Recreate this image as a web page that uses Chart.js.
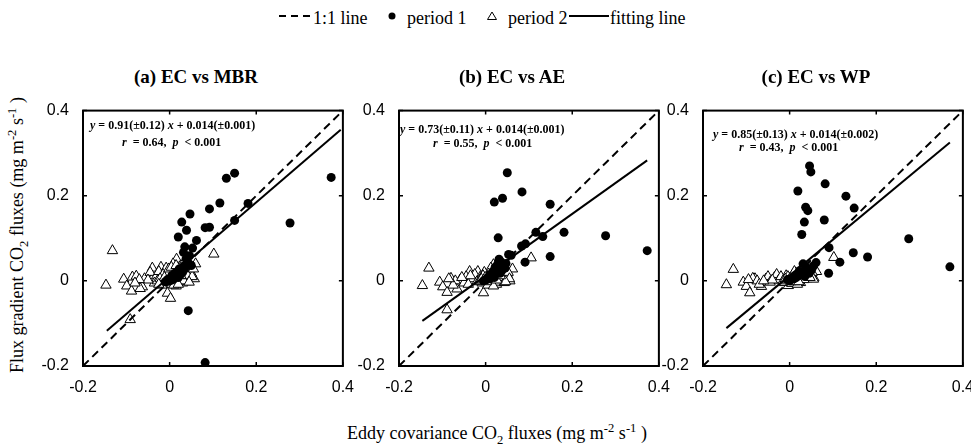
<!DOCTYPE html>
<html><head><meta charset="utf-8">
<script src="https://cdn.jsdelivr.net/npm/chart.js@4.4.1/dist/chart.umd.min.js"></script>
<style>
html,body{margin:0;padding:0;width:971px;height:447px;overflow:hidden;background:#fff;}
canvas{position:absolute;}
.t{position:absolute;font-family:"Liberation Serif","Times New Roman",serif;color:#000;white-space:nowrap;line-height:1;}
.c{transform:translate(-50%,-50%);}
.ttl{font-weight:bold;font-size:19px;}
.ann{font-weight:bold;font-size:12px;transform:translateY(-50%);}
.lab{font-size:18px;}
sub,sup{font-size:70%;line-height:0;}
</style></head><body>

<script>
// ---------- data ----------
const tickValues = [-0.2, 0, 0.2, 0.4];
const tickLabels = ['-0.2', '0', '0.2', '0.4'];
const oneToOneX = [-0.2, 0.4];
const oneToOneY = [-0.2, 0.4];

// (a) EC vs MBR
const mbrP1X = [0.373,0.150,0.131,0.116,0.181,0.278,0.150,0.092,0.047,0.028,0.020,0.039,0.082,0.092,0.062,0.035,0.053,0.032,0.046,0.050,0.043,0.082,
  0.041,0.035,0.045,0.030,0.025,0.015,0.010,0.005,0.000,-0.005,0.020,0.012,0.028,-0.010,0.005,0.038,0.018,0.022,0.008,0.033,0.003];
const mbrP1Y = [0.243,0.253,0.241,0.183,0.182,0.136,0.142,0.169,0.157,0.138,0.103,0.119,0.125,0.126,0.095,0.080,0.077,0.067,0.059,0.036,-0.070,-0.192,
  0.045,0.030,0.040,0.020,0.015,0.010,0.005,0.002,0.000,0.003,0.008,0.018,0.025,-0.002,0.012,0.052,0.020,0.028,0.010,0.035,0.006];
const mbrP2X = [-0.132,-0.147,-0.106,-0.099,-0.088,-0.086,-0.077,-0.091,-0.063,-0.058,-0.068,-0.040,-0.039,-0.045,-0.030,-0.020,-0.016,-0.025,-0.005,0.002,0.016,0.102,0.060,0.057,0.045,0.035,-0.010,-0.012,0.000,0.005,0.010,0.020,0.025,0.030,0.040,-0.035,-0.050,-0.008,0.015,0.050,-0.028,-0.018,0.008,0.022,-0.003,0.012,0.032,0.018,-0.070,-0.080,-0.015,0.028,0.038,0.003,-0.022,
  -0.005,0.002,0.007,0.013,0.017,0.023,0.027,0.033,0.037,0.042,0.047,0.052,-0.002,0.010,0.020,0.030,-0.012,0.004,0.015,0.045,0.055,-0.025,0.001,0.026];
const mbrP2Y = [0.071,-0.010,0.004,-0.012,-0.024,0.009,0.011,-0.091,-0.014,0.005,-0.018,0.030,0.007,0.020,0.012,0.032,0.009,0.022,-0.029,-0.041,0.051,0.063,0.040,0.005,0.025,0.015,0.020,-0.005,0.012,-0.008,0.025,0.000,0.035,-0.005,0.008,-0.005,0.002,0.030,-0.012,0.018,0.000,-0.010,0.040,0.018,0.005,0.003,0.042,0.028,0.003,-0.005,0.015,0.008,-0.002,0.020,0.005,
  0.015,-0.003,0.018,0.010,0.022,0.005,0.020,0.000,0.030,0.012,0.035,0.010,0.028,-0.010,-0.008,0.028,0.008,0.032,0.036,-0.003,0.028,-0.008,0.008,0.013];
const mbrFitX = [-0.145, 0.395];
const mbrFitY = [-0.117, 0.355];

// (b) EC vs AE
const aeP1X = [0.050,0.084,0.039,0.020,0.149,0.029,0.181,0.116,0.132,0.277,0.373,0.149,0.091,0.083,0.092,0.059,0.053,0.031,0.047,
  0.040,0.030,0.025,0.015,0.008,0.000,0.020,0.035,0.045,0.010,-0.005,0.028,0.018,0.033,0.005,0.038,0.022];
const aeP1Y = [0.254,0.209,0.194,0.185,0.180,0.101,0.114,0.114,0.104,0.106,0.071,0.057,0.044,0.082,0.087,0.060,0.062,0.051,0.041,
  0.035,0.028,0.020,0.012,0.005,0.002,0.008,0.045,0.030,0.015,0.000,0.040,0.022,0.018,0.008,0.025,0.032];
const aeP2X = [-0.131,-0.146,-0.106,-0.099,-0.089,-0.080,-0.089,-0.066,-0.059,-0.037,-0.018,-0.005,0.018,0.062,0.056,0.105,
  -0.045,-0.030,-0.025,-0.050,-0.070,-0.075,-0.040,-0.012,-0.008,0.000,0.005,0.010,0.015,0.020,0.025,0.030,0.035,0.040,0.045,0.050,-0.020,0.003,0.012,0.022,-0.015,0.028,0.038,-0.035,0.008,-0.003,0.048,0.018,-0.055,-0.085,
  -0.006,0.002,0.007,0.013,0.017,0.024,0.027,0.032,0.036,0.043,0.052,0.055,-0.010,0.010,0.021,0.031,0.041,0.046,0.014,-0.001,0.026,0.034];
const aeP2Y = [0.030,-0.011,-0.003,-0.014,-0.027,0.006,-0.068,-0.019,0.002,0.022,0.022,-0.028,0.038,0.028,0.000,0.054,
  0.010,0.005,0.015,-0.005,0.000,-0.010,-0.008,0.010,-0.005,0.015,-0.010,0.020,0.000,0.010,-0.008,0.015,0.002,0.020,0.008,0.015,-0.002,0.005,0.030,0.025,0.000,-0.003,0.010,0.012,0.008,0.020,0.025,-0.012,0.008,0.005,
  0.012,-0.002,0.016,0.006,0.024,0.003,0.018,0.008,0.028,-0.004,0.020,0.005,0.004,0.010,0.014,0.022,0.032,-0.002,0.018,0.008,0.002,0.012];
const aeFitX = [-0.146, 0.373];
const aeFitY = [-0.094, 0.283];

// (c) EC vs WP
const wpP1X = [0.046,0.049,0.082,0.019,0.130,0.037,0.042,0.149,0.080,0.034,0.028,0.275,0.147,0.180,0.370,0.091,0.116,0.090,0.061,0.031,
  0.040,0.050,0.055,0.030,0.020,0.010,0.000,0.025,0.045,0.015,-0.005,0.035,0.022,0.038,0.012,0.005];
const wpP1Y = [0.270,0.256,0.228,0.211,0.199,0.173,0.165,0.171,0.143,0.138,0.109,0.099,0.066,0.056,0.033,0.078,0.044,0.018,0.043,0.040,
  0.030,0.025,0.035,0.020,0.012,0.005,0.000,0.015,0.018,0.008,0.003,0.010,0.022,0.020,0.012,0.006];
const wpP2X = [-0.130,-0.146,-0.107,-0.100,-0.092,-0.080,-0.065,-0.003,0.056,0.062,0.102,
  -0.085,-0.075,-0.070,-0.055,-0.050,-0.045,-0.035,-0.030,-0.025,-0.020,-0.012,-0.008,0.000,0.005,0.010,0.015,0.020,0.025,0.030,0.035,0.040,0.045,0.050,-0.015,0.008,-0.040,0.018,0.028,0.048,-0.060,-0.095,0.012,
  -0.004,0.003,0.007,0.013,0.017,0.023,0.027,0.033,0.037,0.043,0.052,0.055,-0.010,0.011,0.021,0.031,0.041,0.047,0.015,0.001];
const wpP2Y = [0.027,-0.009,-0.003,-0.013,-0.028,0.005,-0.013,-0.011,0.007,0.022,0.055,
  0.006,0.000,-0.008,0.004,0.010,-0.003,0.008,0.015,0.002,0.010,-0.004,0.012,0.005,-0.006,0.015,0.002,0.020,-0.004,0.008,0.025,0.005,0.028,0.012,0.000,0.008,0.002,-0.008,0.030,0.032,0.000,0.003,-0.002,
  0.010,-0.002,0.014,0.004,0.018,0.010,0.024,0.003,0.016,0.020,0.020,0.004,0.004,0.022,-0.002,0.018,0.012,0.008,0.012,0.006];
const wpFitX = [-0.146, 0.370];
const wpFitY = [-0.111, 0.325];

// ---------- helpers ----------
const zip = (xs, ys) => xs.map((x, i) => ({x: x, y: ys[i]}));

const framePlugin = {
  id: 'frame',
  afterDatasetsDraw(chart) {
    const {ctx, chartArea: a, scales} = chart;
    const xs = scales.x, ys = scales.y;
    ctx.save();
    ctx.strokeStyle = '#000';
    ctx.lineWidth = 1.5;
    ctx.beginPath();
    tickValues.forEach(v => {
      const px = xs.getPixelForValue(v);
      ctx.moveTo(px, a.bottom); ctx.lineTo(px, a.bottom - 4);
      ctx.moveTo(px, a.top); ctx.lineTo(px, a.top + 4);
      const py = ys.getPixelForValue(v);
      ctx.moveTo(a.left, py); ctx.lineTo(a.left + 4, py);
      ctx.moveTo(a.right, py); ctx.lineTo(a.right - 4, py);
    });
    ctx.stroke();
    ctx.lineWidth = 2;
    ctx.strokeRect(a.left, a.top, a.right - a.left, a.bottom - a.top);
    ctx.restore();
  }
};

function axis(pos) {
  return {
    type: 'linear', position: pos, min: -0.2, max: 0.4,
    grid: {display: false},
    border: {display: false},
    afterBuildTicks: s => { s.ticks = tickValues.map(v => ({value: v})); },
    afterFit: s => { if (pos === 'left') s.width = 45; else s.height = 30; },
    ticks: {
      color: '#000', padding: pos === 'left' ? 6 : 4,
      font: {family: '"Liberation Sans", Arial, sans-serif', size: 16},
      callback: (v, i) => tickLabels[i]
    }
  };
}

function makePanel(id, left, p1x, p1y, p2x, p2y, fx, fy) {
  const cv = document.createElement('canvas');
  cv.id = id;
  cv.width = 320; cv.height = 301;
  cv.style.left = left + 'px'; cv.style.top = '95px';
  cv.style.width = '320px'; cv.style.height = '301px';
  document.body.appendChild(cv);
  new Chart(cv, {
    type: 'scatter',
    data: {
      datasets: [
        {label: '1:1 line', data: zip(oneToOneX, oneToOneY), showLine: true, borderColor: '#000', borderWidth: 2, borderDash: [8, 5], pointRadius: 0, order: 0},
        {label: 'fitting line', data: zip(fx, fy), showLine: true, borderColor: '#000', borderWidth: 2, pointRadius: 0, order: 1},
        {label: 'period 1', data: zip(p1x, p1y), pointStyle: 'circle', pointRadius: 4.5, backgroundColor: '#000', borderColor: '#000', borderWidth: 0, order: 2},
        {label: 'period 2', data: zip(p2x, p2y), pointStyle: 'triangle', pointRadius: 6, backgroundColor: '#fff', borderColor: '#000', borderWidth: 1, order: 3}
      ]
    },
    options: {
      responsive: false, animation: false, devicePixelRatio: 1,
      layout: {padding: {top: 10, right: 14, left: 0, bottom: 0}},
      plugins: {legend: {display: false}, tooltip: {enabled: false}},
      scales: {x: axis('bottom'), y: axis('left')}
    },
    plugins: [framePlugin]
  });
}

makePanel('ca', 38, mbrP1X, mbrP1Y, mbrP2X, mbrP2Y, mbrFitX, mbrFitY);
makePanel('cb', 354, aeP1X, aeP1Y, aeP2X, aeP2Y, aeFitX, aeFitY);
makePanel('cc', 658, wpP1X, wpP1Y, wpP2X, wpP2Y, wpFitX, wpFitY);
</script>

<!-- legend -->
<svg style="position:absolute;left:278px;top:8px" width="36" height="14"><line x1="1" y1="8" x2="35" y2="8" stroke="#000" stroke-width="2" stroke-dasharray="7,5"/></svg>
<div class="t lab" style="left:313px;top:9px">1:1 line</div>
<svg style="position:absolute;left:387px;top:11px" width="10" height="10"><circle cx="5" cy="5" r="3.5" fill="#000"/></svg>
<div class="t lab" style="left:407px;top:9px">period 1</div>
<svg style="position:absolute;left:486px;top:10px" width="12" height="12"><polygon points="6,2 10.5,9.5 1.5,9.5" fill="#fff" stroke="#000" stroke-width="1"/></svg>
<div class="t lab" style="left:508px;top:9px">period 2</div>
<svg style="position:absolute;left:569px;top:8px" width="40" height="14"><line x1="0" y1="8" x2="40" y2="8" stroke="#000" stroke-width="2"/></svg>
<div class="t lab" style="left:610px;top:9px">fitting line</div>

<!-- titles -->
<div class="t ttl c" style="left:196px;top:76px">(a) EC vs MBR</div>
<div class="t ttl c" style="left:512px;top:76px">(b) EC vs AE</div>
<div class="t ttl c" style="left:816px;top:76px">(c) EC vs WP</div>

<!-- annotations -->
<div class="t ann" style="left:90px;top:125px"><i>y</i> = 0.91(±0.12) <i>x</i> + 0.014(±0.001)</div>
<div class="t ann" style="left:122px;top:142px"><i>r</i> &nbsp;= 0.64, &nbsp;<i>p</i> &nbsp;&lt; 0.001</div>
<div class="t ann" style="left:400px;top:129px"><i>y</i> = 0.73(±0.11) <i>x</i> + 0.014(±0.001)</div>
<div class="t ann" style="left:433px;top:143px"><i>r</i> &nbsp;= 0.55, &nbsp;<i>p</i> &nbsp;&lt; 0.001</div>
<div class="t ann" style="left:713px;top:134px"><i>y</i> = 0.85(±0.13) <i>x</i> + 0.014(±0.002)</div>
<div class="t ann" style="left:739px;top:147px"><i>r</i> &nbsp;= 0.43, &nbsp;<i>p</i> &nbsp;&lt; 0.001</div>

<!-- axis titles -->
<div class="t lab" style="left:17px;top:235px;transform:translate(-50%,-50%) rotate(-90deg)">Flux gradient CO<sub>2</sub> fluxes (mg m<sup>-2</sup> s<sup>-1</sup> )</div>
<div class="t lab c" style="left:497px;top:433px">Eddy covariance CO<sub>2</sub> fluxes (mg m<sup>-2</sup> s<sup>-1</sup> )</div>
</body></html>
